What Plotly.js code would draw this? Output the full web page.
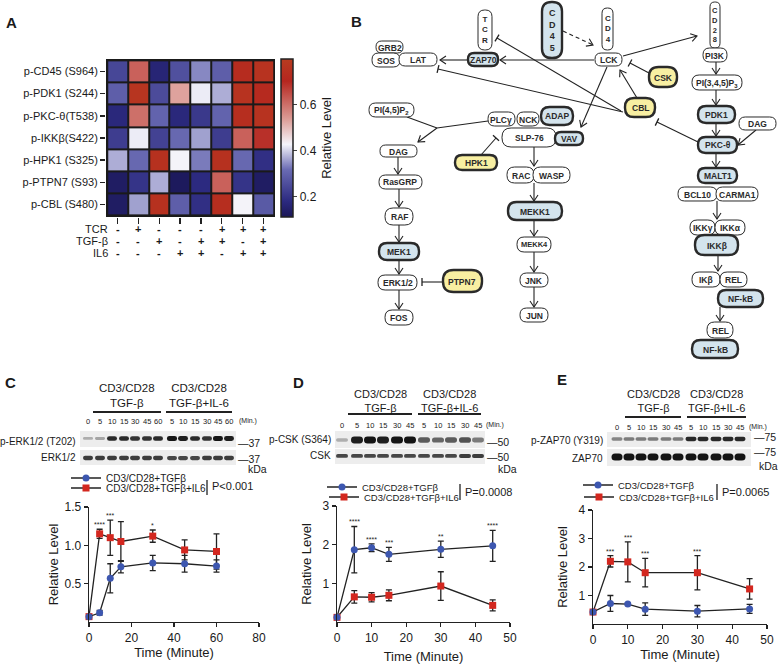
<!DOCTYPE html>
<html><head><meta charset="utf-8">
<script src="https://cdn.plot.ly/plotly-3.0.1.min.js"></script>
<style>html,body{margin:0;padding:0;background:#fff}</style>
</head><body><div id="chart" style="width:778px;height:664px"></div>
<script>
// ================= DATA =================
// Panel A heatmap
const heatRows = ['p-CD45 (S964)','p-PDK1 (S244)','p-PKC-θ(T538)','p-IKKβ(S422)','p-HPK1 (S325)','p-PTPN7 (S93)','p-CBL (S480)'];
const tcrSigns = ['-','+','-','-','-','+','+','+'];
const tgfSigns = ['-','-','+','-','+','+','-','+'];
const il6Signs = ['-','-','-','+','+','-','+','+'];
const signRowLabels = ['TCR','TGF-β','IL6'];
const heatCD45  = [0.24,0.62,0.16,0.26,0.34,0.29,0.73,0.76];
const heatPDK1  = [0.29,0.77,0.25,0.53,0.42,0.37,0.76,0.72];
const heatPKC   = [0.17,0.60,0.30,0.17,0.21,0.30,0.74,0.76];
const heatIKKb  = [0.22,0.42,0.23,0.31,0.36,0.22,0.62,0.69];
const heatHPK1  = [0.37,0.31,0.75,0.43,0.33,0.75,0.31,0.19];
const heatPTPN7 = [0.13,0.20,0.37,0.12,0.18,0.62,0.20,0.13];
const heatCBL   = [0.13,0.36,0.75,0.29,0.19,0.74,0.43,0.28];
const colorbarTicks = [0.2,0.4,0.6];

// Panel C (p-ERK1/2)
const timeC = [0,5,10,15,30,45,60];
const cTgf = [0.07,0.12,0.57,0.72,0.77,0.76,0.73];
const cTgfErr = [0.02,0.03,0.19,0.08,0.10,0.11,0.08];
const cIl6 = [0.07,1.15,1.10,1.05,1.12,0.94,0.92];
const cIl6Err = [0.02,0.06,0.23,0.26,0.08,0.13,0.23];
const cStars = ['','****','***','','*','',''];
const cP = 'P<0.001';
// Panel D (p-CSK)
const timeD = [0,5,10,15,30,45];
const dTgf = [0.12,1.87,1.92,1.75,1.88,1.97];
const dTgfErr = [0.02,0.60,0.10,0.18,0.21,0.40];
const dIl6 = [0.12,0.65,0.64,0.69,0.93,0.43];
const dIl6Err = [0.02,0.16,0.12,0.14,0.37,0.14];
const dStars = ['','****','****','***','**','****'];
const dP = 'P=0.0008';
// Panel E (p-ZAP70)
const timeE = [0,5,10,15,30,45];
const eTgf = [0.42,0.72,0.70,0.52,0.45,0.53];
const eTgfErr = [0.03,0.28,0.03,0.22,0.20,0.16];
const eIl6 = [0.42,2.20,2.18,1.80,1.80,1.23];
const eIl6Err = [0.03,0.20,0.70,0.50,0.60,0.36];
const eStars = ['','***','***','***','***',''];
const eP = 'P=0.0065';
const seriesNames = ['CD3/CD28+TGFβ','CD3/CD28+TGFβ+IL6'];

// Western blot band intensities (0..1) and lane labels
const blotLanesC = ['0','5','10','15','30','45','60','5','10','15','30','45','60'];
const blotLanesDE = ['0','5','10','15','30','45','5','10','15','30','45'];
const bandPERK  = [0.25,0.3,0.9,0.9,0.85,0.85,0.9,1,0.95,0.9,0.85,1,0.95];
const bandERK   = [0.8,0.8,0.8,0.8,0.8,0.8,0.8,0.75,0.75,0.75,0.8,0.8,0.8];
const bandPCSK  = [0.25,0.95,1,0.95,1,1,0.65,0.6,0.65,0.7,0.5];
const bandCSK   = [0.75,0.75,0.75,0.75,0.75,0.75,0.75,0.75,0.75,0.8,0.8];
const bandPZAP  = [0.45,0.5,0.5,0.5,0.5,0.5,0.9,0.9,0.9,0.9,0.9];
const bandZAP   = [1,1,1,1,1,1,1,1,1,1,1];

// ================= LAYOUT HELPERS =================
const W = 778, H = 664;
const FONT = 'Liberation Sans, Arial, sans-serif';
const px = x => x / W;
const py = y => 1 - y / H;
const P = (x, y) => px(x).toFixed(5) + ',' + py(y).toFixed(5);
const shapes = [];
const annotations = [];

function pill(x0, y0, x1, y1, r) {
  r = Math.min(r, (x1 - x0) / 2, (y1 - y0) / 2);
  return `M${P(x0 + r, y0)} L${P(x1 - r, y0)} Q${P(x1, y0)} ${P(x1, y0 + r)} L${P(x1, y1 - r)} Q${P(x1, y1)} ${P(x1 - r, y1)} L${P(x0 + r, y1)} Q${P(x0, y1)} ${P(x0, y1 - r)} L${P(x0, y0 + r)} Q${P(x0, y0)} ${P(x0 + r, y0)} Z`;
}
function text(x, y, t, size, opts) {
  annotations.push(Object.assign({
    x: px(x), y: py(y), xref: 'paper', yref: 'paper', text: t, showarrow: false,
    xanchor: 'center', yanchor: 'middle', font: { size: size, color: '#1a1a1a', family: FONT }
  }, opts || {}));
}
function pline(x0, y0, x1, y1, w, dash) {
  shapes.push({ type: 'path', xref: 'paper', yref: 'paper', path: `M${P(x0, y0)} L${P(x1, y1)}`,
    line: { color: '#222', width: w || 1, dash: dash || 'solid' } });
}

// Panel letters
[['A', 11, 23], ['B', 356, 22], ['C', 10, 383], ['D', 298, 383], ['E', 562, 379]].forEach(l =>
  text(l[1], l[2], '<b>' + l[0] + '</b>', 15));

// ================= PANEL B : pathway diagram =================
const nodeStyle = {
  plain: { fill: '#ffffff', w: 1 },
  blue: { fill: '#d4e4ed', w: 2.4 },
  yellow: { fill: '#f8efa2', w: 2.4 }
};
const diagramNodes = [
  { t: 'T<br>C<br>R', b: [478, 10, 492, 50], v: 8 },
  { t: 'C<br>D<br>4<br>5', b: [542, 2, 562, 58], k: 'blue', v: 9 },
  { t: 'C<br>D<br>4', b: [602, 8, 613, 50], v: 8 },
  { t: 'C<br>D<br>2<br>8', b: [710, 2, 720, 48], v: 7.5 },
  { t: 'GRB2', b: [376, 41, 403, 53] },
  { t: 'SOS', b: [372, 53, 400, 67] },
  { t: 'LAT', b: [399, 53, 437, 66] },
  { t: 'ZAP70', b: [468, 53, 498, 66], k: 'blue' },
  { t: 'LCK', b: [595, 53, 622, 66] },
  { t: 'PI3K', b: [703, 48, 727, 62] },
  { t: 'CSK', b: [649, 67, 677, 87], k: 'yellow' },
  { t: 'PI(3,4,5)P<sub>3</sub>', b: [692, 75, 742, 90] },
  { t: 'PI(4,5)P<sub>2</sub>', b: [369, 103, 414, 117] },
  { t: 'CBL', b: [625, 98, 655, 117], k: 'yellow' },
  { t: 'PDK1', b: [698, 106, 735, 123], k: 'blue' },
  { t: 'DAG', b: [739, 117, 776, 130] },
  { t: 'SLP-76', b: [502, 128, 556, 147] },
  { t: 'PLCγ', b: [488, 112, 515, 126] },
  { t: 'NCK', b: [517, 112, 539, 126] },
  { t: 'ADAP', b: [541, 107, 573, 125], k: 'blue' },
  { t: 'VAV', b: [555, 132, 583, 145], k: 'blue' },
  { t: 'DAG', b: [380, 145, 417, 157] },
  { t: 'HPK1', b: [455, 155, 497, 170], k: 'yellow' },
  { t: 'PKC-θ', b: [698, 137, 737, 153], k: 'blue' },
  { t: 'RasGRP', b: [379, 175, 422, 189] },
  { t: 'RAC', b: [507, 167, 534, 183] },
  { t: 'WASP', b: [533, 167, 570, 183] },
  { t: 'MALT1', b: [698, 168, 737, 183], k: 'blue' },
  { t: 'BCL10', b: [678, 187, 717, 201] },
  { t: 'CARMA1', b: [716, 187, 758, 201] },
  { t: 'RAF', b: [385, 208, 413, 225] },
  { t: 'MEK1', b: [379, 243, 419, 260], k: 'blue' },
  { t: 'ERK1/2', b: [378, 275, 417, 290] },
  { t: 'PTPN7', b: [443, 270, 482, 292], k: 'yellow' },
  { t: 'FOS', b: [385, 310, 413, 325] },
  { t: 'MEKK1', b: [508, 202, 562, 220], k: 'blue' },
  { t: 'MEKK4', b: [517, 237, 551, 252], f: 7.5 },
  { t: 'JNK', b: [520, 273, 548, 287] },
  { t: 'JUN', b: [520, 308, 548, 322] },
  { t: 'IKKγ', b: [690, 220, 715, 235] },
  { t: 'IKKα', b: [715, 220, 745, 235] },
  { t: 'IKKβ', b: [695, 235, 738, 255], k: 'blue' },
  { t: 'IKβ', b: [692, 272, 720, 287] },
  { t: 'REL', b: [720, 272, 747, 287] },
  { t: 'NF-kB', b: [718, 290, 763, 307], k: 'blue' },
  { t: 'REL', b: [707, 322, 733, 338] },
  { t: 'NF-kB', b: [692, 340, 738, 358], k: 'blue' }
];
const diagramEdges = [
  [594, 60, 500, 60, 'arrow'], [467, 60, 440, 60, 'arrow'],
  [563, 31, 593, 45, 'dash'], [623, 56, 697, 36, 'arrow'],
  [607, 67, 581, 127, 'arrow'], [649, 73, 630, 63, 'bar'],
  [637, 98, 620, 70, 'arrow'], [621, 111, 497, 38, 'bar'],
  [623, 112, 438, 69, 'bar'], [698, 142, 657, 122, 'bar'],
  [407, 117, 437, 128, 'line'], [488, 121, 437, 128, 'line'], [437, 128, 418, 142, 'arrow'],
  [481, 155, 496, 138, 'bar'], [534, 147, 534, 166, 'arrow'],
  [716, 62, 716, 74, 'arrow'], [716, 90, 716, 105, 'arrow'], [716, 123, 716, 136, 'arrow'],
  [756, 130, 738, 145, 'arrow'], [716, 153, 716, 167, 'arrow'],
  [717, 201, 717, 219, 'arrow'], [718, 255, 718, 271, 'arrow'], [720, 307, 720, 321, 'arrow'],
  [398, 157, 398, 174, 'arrow'], [399, 189, 399, 207, 'arrow'], [399, 225, 399, 242, 'arrow'],
  [399, 260, 399, 274, 'arrow'], [399, 290, 399, 309, 'arrow'], [443, 282, 422, 282, 'bar'],
  [534, 183, 534, 201, 'arrow'], [534, 220, 534, 236, 'arrow'], [534, 252, 534, 272, 'arrow'],
  [534, 287, 534, 307, 'arrow']
];
diagramEdges.forEach(e => {
  const [x0, y0, x1, y1, type] = e;
  const dx = x1 - x0, dy = y1 - y0, L = Math.hypot(dx, dy), ux = dx / L, uy = dy / L, nx = -uy, ny = ux;
  pline(x0, y0, x1, y1, 1.1, type === 'dash' ? '4px,3px' : 'solid');
  if (type === 'arrow' || type === 'dash') {
    shapes.push({ type: 'path', xref: 'paper', yref: 'paper',
      path: `M${P(x1 - 6 * ux + 4 * nx, y1 - 6 * uy + 4 * ny)} L${P(x1, y1)} L${P(x1 - 6 * ux - 4 * nx, y1 - 6 * uy - 4 * ny)}`,
      line: { color: '#222', width: 1.1 } });
  } else if (type === 'bar') {
    pline(x1 + 4 * nx, y1 + 4 * ny, x1 - 4 * nx, y1 - 4 * ny, 1.3);
  }
});
diagramNodes.forEach(n => {
  const s = nodeStyle[n.k || 'plain'];
  const [x0, y0, x1, y1] = n.b;
  shapes.push({ type: 'path', xref: 'paper', yref: 'paper', path: pill(x0, y0, x1, y1, Math.min(x1 - x0, y1 - y0) * 0.48),
    fillcolor: s.fill, line: { color: '#2a2a2a', width: s.w } });
  text((x0 + x1) / 2, (y0 + y1) / 2 + (n.v ? 0 : 0.5), '<b>' + n.t + '</b>', n.v || n.f || 8.5,
    { font: { size: n.v || n.f || 8.5, color: '#2a2a2a', family: FONT } });
});

// ================= WESTERN BLOTS =================
function blot(cfg) {
  cfg.strips.forEach(st => {
    shapes.push({ type: 'rect', xref: 'paper', yref: 'paper', x0: px(cfg.x0), x1: px(cfg.x1), y0: py(st.y1), y1: py(st.y0),
      fillcolor: '#ededed', line: { width: 0 } });
    st.vals.forEach((v, i) => {
      const cx = cfg.lanes[i], h = st.hmin + (st.hmax - st.hmin) * v, g = Math.round(225 - 205 * v);
      shapes.push({ type: 'path', xref: 'paper', yref: 'paper',
        path: pill(cx - cfg.bw / 2, st.by - h / 2, cx + cfg.bw / 2, st.by + h / 2, h / 2),
        fillcolor: `rgb(${g},${g},${g})`, line: { width: 0 } });
    });
    text(cfg.x0 - 2, st.ly, st.label, 10, { xanchor: 'right' });
    text(cfg.mwx, st.my, '—' + cfg.mw, 10.5, { xanchor: 'left' });
  });
  text(cfg.kx, cfg.ky, 'kDa', 10.5, { xanchor: 'left' });
  cfg.labels.forEach((l, i) => text(cfg.lanes[i], cfg.ty, l, 7.5));
  text(cfg.minx, cfg.ty, '(Min.)', 7, { xanchor: 'left' });
  cfg.groups.forEach(g => {
    pline(g[0], cfg.barY, g[1], cfg.barY, 2.2);
    text((g[0] + g[1]) / 2, cfg.hy, g[2], cfg.hf);
  });
}
blot({ x0: 80, x1: 236, lanes: [88, 100, 112, 124, 135, 147, 158, 172, 183, 195, 207, 218, 229], bw: 10,
  labels: blotLanesC, ty: 421, minx: 237, barY: 412, hy: 395, hf: 11.5, mw: '37', mwx: 236, kx: 246, ky: 469,
  groups: [[93, 161, 'CD3/CD28<br>TGF-β'], [166, 232, 'CD3/CD28<br>TGF-β+IL-6']],
  strips: [{ y0: 431, y1: 447, by: 438.5, hmin: 2, hmax: 5, vals: bandPERK, label: 'p-ERK1/2 (T202)', ly: 441, my: 443 },
           { y0: 450, y1: 465, by: 458, hmin: 3.5, hmax: 4.5, vals: bandERK, label: 'ERK1/2', ly: 457, my: 459 }] });
blot({ x0: 335, x1: 485, lanes: [342, 357, 370, 383, 397, 410, 424, 438, 451, 465, 478], bw: 12,
  labels: blotLanesDE, ty: 425, minx: 484, barY: 414, hy: 401, hf: 11, mw: '50', mwx: 485, kx: 496, ky: 469,
  groups: [[348, 412, 'CD3/CD28<br>TGF-β'], [418, 481, 'CD3/CD28<br>TGF-β+IL-6']],
  strips: [{ y0: 431, y1: 448, by: 440, hmin: 2.5, hmax: 7, vals: bandPCSK, label: 'p-CSK (S364)', ly: 439, my: 442 },
           { y0: 449, y1: 464, by: 456, hmin: 3, hmax: 4, vals: bandCSK, label: 'CSK', ly: 455, my: 457 }] });
blot({ x0: 607, x1: 751, lanes: [617, 629, 641, 653, 666, 678, 691, 703, 716, 728, 740], bw: 11,
  labels: blotLanesDE, ty: 427, minx: 747, barY: 417, hy: 401, hf: 11, mw: '75', mwx: 752, kx: 757, ky: 466,
  groups: [[625, 681, 'CD3/CD28<br>TGF-β'], [687, 746, 'CD3/CD28<br>TGF-β+IL-6']],
  strips: [{ y0: 432, y1: 447, by: 439, hmin: 2.5, hmax: 4.5, vals: bandPZAP, label: 'p-ZAP70 (Y319)', ly: 440, my: 437 },
           { y0: 449, y1: 466, by: 457, hmin: 6, hmax: 7, vals: bandZAP, label: 'ZAP70', ly: 458, my: 452 }] });

// ================= PANEL A annotations =================
const signRows = [tcrSigns, tgfSigns, il6Signs];
const signY = [229, 241, 253];
signRows.forEach((row, r) => {
  text(110, signY[r], signRowLabels[r], 11, { xanchor: 'right' });
  row.forEach((s, c) => annotations.push({ x: c, y: py(signY[r]), xref: 'x', yref: 'paper', text: '<b>' + s + '</b>',
    showarrow: false, xanchor: 'center', yanchor: 'middle', font: { size: 11, color: '#1a1a1a', family: FONT } }));
});
// heatmap cell grid (black background under gapped cells)
shapes.push({ type: 'rect', xref: 'x', yref: 'y', x0: -0.56, x1: 7.56, y0: -0.56, y1: 6.56, layer: 'below',
  fillcolor: '#1a1a1a', line: { width: 0 } });

// ================= TRACES =================
const BLUE = '#3d57b0', RED = '#d3271f';
function series(xs, ys, errs, color, symbol, xa, ya, name, lg) {
  return { type: 'scatter', mode: 'lines+markers', x: xs, y: ys, xaxis: xa, yaxis: ya, name: name, legend: lg,
    line: { color: '#222', width: 1.3 }, marker: { color: color, symbol: symbol, size: 7 },
    error_y: { type: 'data', array: errs, visible: true, color: '#222', thickness: 1.3, width: 3 }, cliponaxis: false };
}
function stars(xs, ys, errs, st, xa, ya) {
  st.forEach((s, i) => { if (s) annotations.push({ x: xs[i], y: ys[i] + errs[i], xref: xa, yref: ya, text: s, showarrow: false,
    yanchor: 'bottom', yshift: -1, font: { size: 7, color: '#222', family: FONT } }); });
}
stars(timeC, cIl6, cIl6Err, cStars, 'x2', 'y2');
stars(timeD, dTgf, dTgfErr, dStars, 'x3', 'y3');
stars(timeE, eIl6, eIl6Err, eStars, 'x4', 'y4');
// P-value brackets
[[207, 480, 495, 486, cP], [460, 484, 500, 492, dP], [717, 484, 500, 492, eP]].forEach(p => {
  pline(p[0], p[1], p[0], p[2], 1.3);
  text(p[0] + 3, p[3], p[4], 11, { xanchor: 'left' });
});

const traces = [
  { type: 'heatmap', x: tcrSigns.map((_, i) => i), y: heatRows,
    z: [heatCD45, heatPDK1, heatPKC, heatIKKb, heatHPK1, heatPTPN7, heatCBL],
    zmin: 0.11, zmax: 0.80, xgap: 2, ygap: 2, showscale: true, hoverinfo: 'z',
    colorscale: [[0, '#1b1757'], [0.1, '#2c2a80'], [0.3, '#6a6bb3'], [0.46, '#f5f5fb'], [0.62, '#dc9c96'], [0.86, '#b5261f'], [1, '#b83c20']],
    colorbar: { x: px(281), xanchor: 'left', y: py(59), yanchor: 'top', len: 158 / H, lenmode: 'fraction',
      thickness: 12, thicknessmode: 'pixels', xpad: 0, ypad: 0, outlinewidth: 1.5, outlinecolor: '#222',
      ticks: 'outside', ticklen: 4, tickvals: colorbarTicks, tickfont: { size: 12, family: FONT },
      title: { text: 'Relative Level', side: 'right', font: { size: 13, family: FONT } } } },
  series(timeC, cIl6, cIl6Err, RED, 'square', 'x2', 'y2', seriesNames[1], 'legend2'),
  series(timeC, cTgf, cTgfErr, BLUE, 'circle', 'x2', 'y2', seriesNames[0], 'legend'),
  series(timeD, dIl6, dIl6Err, RED, 'square', 'x3', 'y3', seriesNames[1], 'legend4'),
  series(timeD, dTgf, dTgfErr, BLUE, 'circle', 'x3', 'y3', seriesNames[0], 'legend3'),
  series(timeE, eIl6, eIl6Err, RED, 'square', 'x4', 'y4', seriesNames[1], 'legend6'),
  series(timeE, eTgf, eTgfErr, BLUE, 'circle', 'x4', 'y4', seriesNames[0], 'legend5')
];

function lg(x, y, size) {
  return { x: px(x), y: py(y), xanchor: 'left', yanchor: 'middle', bgcolor: 'rgba(0,0,0,0)', borderwidth: 0,
    font: { size: size, family: FONT, color: '#1a1a1a' }, itemclick: false };
}
function ax(dom, range, tickvals, title, standoff, anchor, extra) {
  return Object.assign({ domain: dom, range: range, anchor: anchor, tickvals: tickvals, ticks: 'outside', ticklen: 4, tickwidth: 1.3,
    tickcolor: '#222', showline: true, linewidth: 1.3, linecolor: '#222', showgrid: false, zeroline: false, automargin: false,
    tickfont: { size: 12, family: FONT, color: '#1a1a1a' }, title: { text: title, standoff: standoff, font: { size: 13, family: FONT, color: '#1a1a1a' } } }, extra || {});
}

const layout = {
  width: W, height: H, autosize: false, margin: { l: 0, r: 0, t: 0, b: 0 },
  paper_bgcolor: '#fff', plot_bgcolor: 'rgba(0,0,0,0)', font: { family: FONT, color: '#1a1a1a' },
  xaxis: { domain: [px(106), px(275)], range: [-0.56, 7.56], anchor: 'y', tickvals: [0, 1, 2, 3, 4, 5, 6, 7], showticklabels: false,
    ticks: 'outside', ticklen: 6, tickwidth: 1.5, tickcolor: '#222', showgrid: false, zeroline: false, showline: false, automargin: false, fixedrange: true },
  yaxis: { domain: [py(217), py(59)], range: [6.56, -0.56], anchor: 'x', type: 'category', ticks: 'outside', ticklen: 5, tickwidth: 1.5,
    tickcolor: '#222', showgrid: false, zeroline: false, showline: false, automargin: false, tickfont: { size: 11, family: FONT, color: '#1a1a1a' } },
  xaxis2: ax([px(89), px(259)], [0, 80], [0, 20, 40, 60, 80], 'Time (Minute)', 2, 'y2'),
  yaxis2: ax([py(622), py(507)], [0, 1.5], [0.5, 1.0, 1.5], 'Relative Level', 3, 'x2', { ticktext: ['0.5', '1.0', '1.5'] }),
  xaxis3: ax([px(337), px(510)], [0, 50], [0, 10, 20, 30, 40, 50], 'Time (Minute)', 9, 'y3'),
  yaxis3: ax([py(622), py(506)], [0, 3], [1, 2, 3], 'Relative Level', 8, 'x3'),
  xaxis4: ax([px(593), px(767)], [0, 50], [0, 10, 20, 30, 40, 50], 'Time (Minute)', 3, 'y4'),
  yaxis4: ax([py(624), py(510)], [0, 4], [1, 2, 3, 4], 'Relative Level', 8, 'x4'),
  legend: lg(66, 478, 10), legend2: lg(66, 488, 10),
  legend3: lg(322, 487, 9.5), legend4: lg(324, 497, 9.5),
  legend5: lg(578, 485, 9.5), legend6: lg(579, 497, 9.5),
  shapes: shapes, annotations: annotations, showlegend: true
};
Plotly.newPlot('chart', traces, layout, { displayModeBar: false, staticPlot: true });
</script></body></html>
